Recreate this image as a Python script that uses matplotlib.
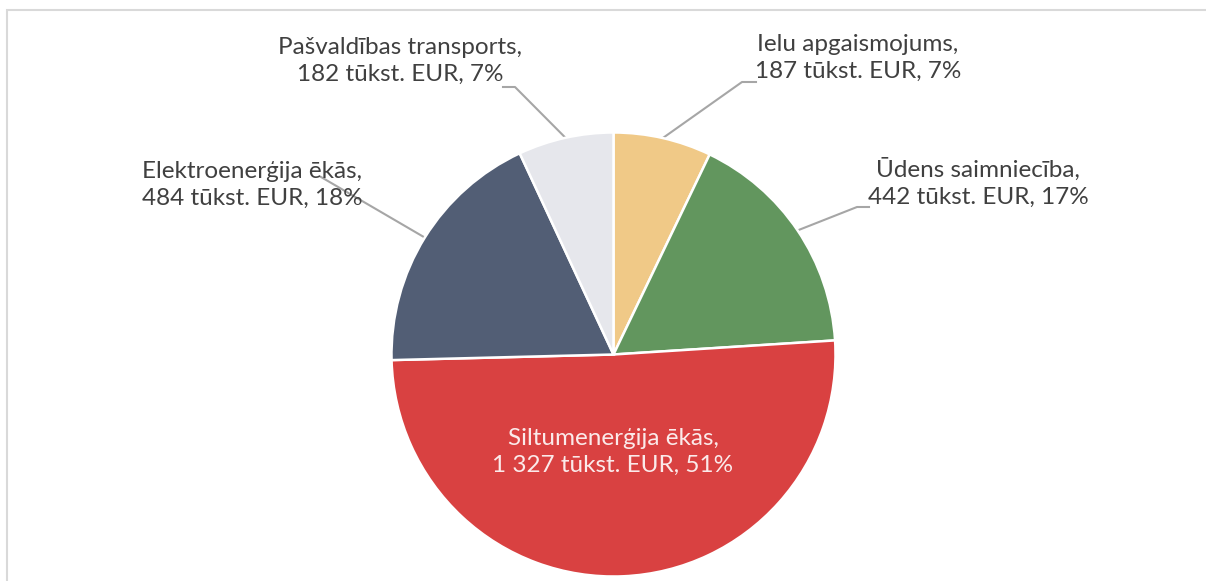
import numpy as np
import matplotlib
matplotlib.use('Agg')
import matplotlib.pyplot as plt
from matplotlib.patches import Rectangle

# data
names = ['Ielu apgaismojums', 'Ūdens saimniecība', 'Siltumenerģija ēkās',
         'Elektroenerģija ēkās', 'Pašvaldības transports']
values = [187, 442, 1327, 484, 182]
value_labels = ['187', '442', '1 327', '484', '182']
percents = [7, 17, 51, 18, 7]
colors = ['#F0C987', '#62965E', '#D94141', '#525E75', '#E6E7EC']

plt.rcParams['font.family'] = ['Lato', 'DejaVu Sans']

W, H = 1206, 581
fig = plt.figure(figsize=(W / 100, H / 100), dpi=100)
ax = fig.add_axes([0, 0, 1, 1])

cx, cy, r = 613.5, H - 354.5, 222
wedges, _ = ax.pie(values, colors=colors, startangle=90, counterclock=False,
                   center=(cx, cy), radius=r, frame=False,
                   wedgeprops=dict(edgecolor='white', linewidth=1.8))
ax.set_xlim(0, W)
ax.set_ylim(0, H)
ax.set_aspect('auto')
ax.axis('off')

# chart frame
fig.patches.append(Rectangle((7 / W, -0.1), 1.2, (H - 10) / H + 0.1,
                             transform=fig.transFigure, fill=False,
                             edgecolor='#D9D9D9', linewidth=1.5))

txt_color = '#404040'
# label text centres (pixel coords from top) and leader elbow/end points
label_pos = {
    0: (858, 58),
    1: (978, 183),
    2: (613, 452),
    3: (252, 185),
    4: (400, 61),
}
leaders = {
    0: [(742, 82), (756, 82)],
    1: [(857, 207), (869, 207)],
    3: [(321, 177)],
    4: [(515, 87), (503, 87)],
}

for i, w in enumerate(wedges):
    text = f'{names[i]},\n{value_labels[i]} tūkst. EUR, {percents[i]}%'
    tx, ty = label_pos[i]
    col = '#FBEAEA' if i == 2 else txt_color
    ax.text(tx, H - ty, text, ha='center', va='center', fontsize=17.5,
            color=col, linespacing=1.35)
    if i in leaders:
        mid = np.deg2rad((w.theta1 + w.theta2) / 2)
        pts = [(cx + r * np.cos(mid), cy + r * np.sin(mid))]
        pts += [(x, H - y) for x, y in leaders[i]]
        xs, ys = zip(*pts)
        ax.plot(xs, ys, color='#A6A6A6', linewidth=1.5, zorder=0.5)

fig.savefig('out.png', dpi=100)
